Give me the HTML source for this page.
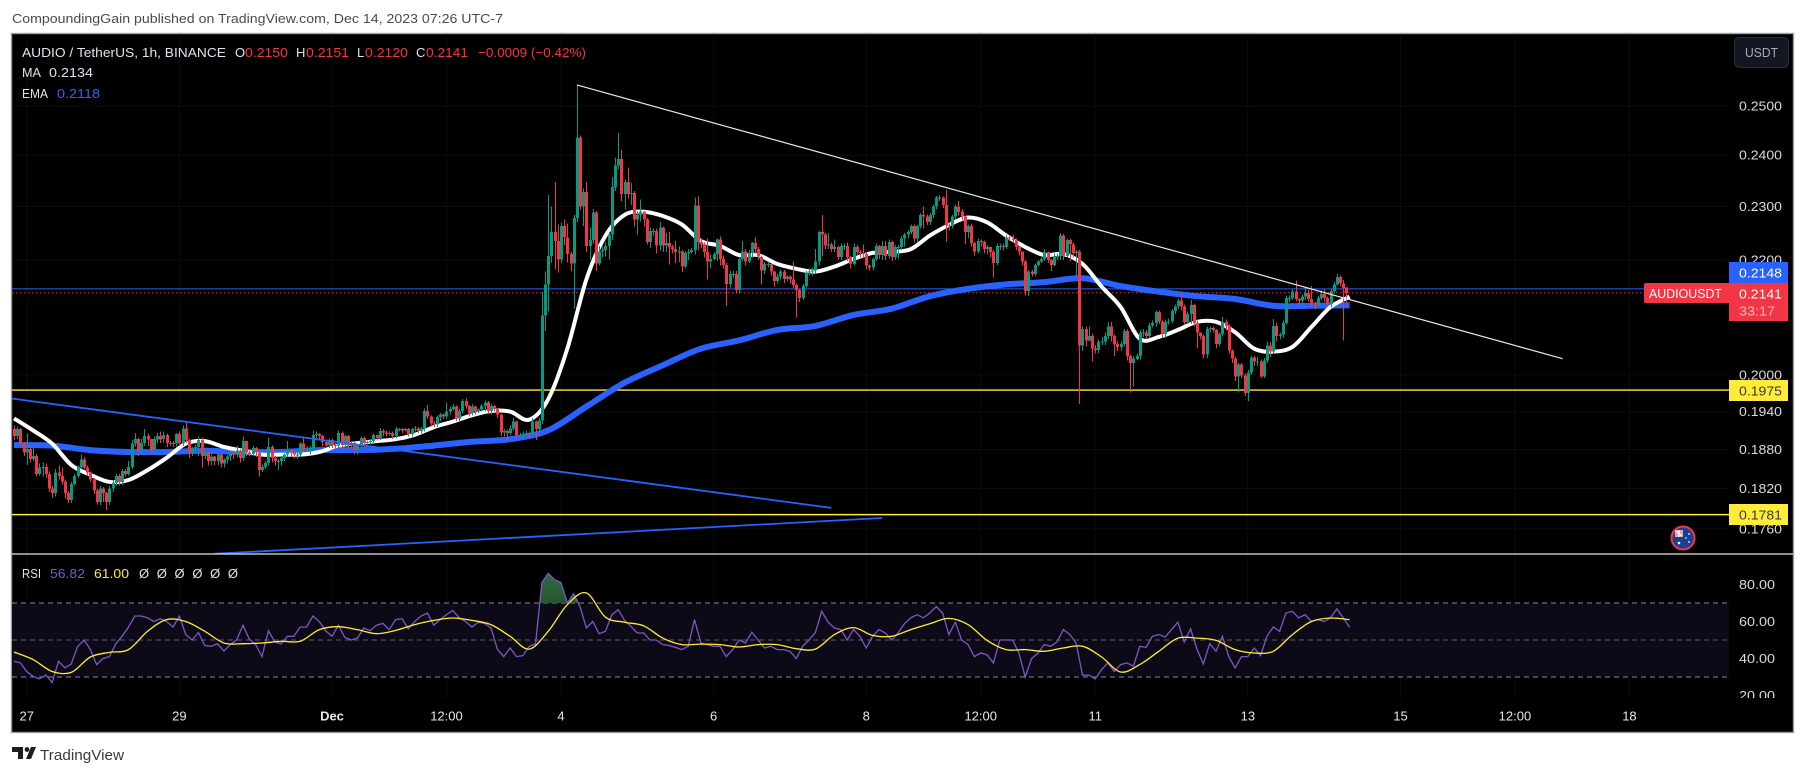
<!DOCTYPE html>
<html lang="en">
<head>
<meta charset="utf-8">
<title>AUDIO / TetherUS chart</title>
<style>
html,body{margin:0;padding:0;background:#fff;width:1805px;height:775px;overflow:hidden}
svg{display:block;font-family:"Liberation Sans",sans-serif}
text{font-size:13px}
</style>
</head>
<body>
<svg id="chart" xmlns="http://www.w3.org/2000/svg" width="1805" height="775" viewBox="0 0 1805 775">
  <defs>
    <clipPath id="main-clip"><rect x="12" y="34" width="1717" height="520"/></clipPath>
    <clipPath id="rsi-clip"><rect x="12" y="555" width="1717" height="144"/></clipPath>
    <clipPath id="rsi-over-clip"><rect x="12" y="555" width="1717" height="48"/></clipPath>
    <clipPath id="rsi-axis-clip"><rect x="1729" y="555" width="64" height="143"/></clipPath>
    <linearGradient id="rsi-over-fill" x1="0" y1="0" x2="0" y2="1">
      <stop offset="0" stop-color="#2f6b3f"/><stop offset="1" stop-color="#0c1f14"/>
    </linearGradient>
  </defs>

  <rect x="0" y="0" width="1805" height="775" fill="#ffffff"/>
  <text x="12" y="23" fill="#4a4a4a" textLength="491" lengthAdjust="spacingAndGlyphs">CompoundingGain published on TradingView.com, Dec 14, 2023 07:26 UTC-7</text>

  <rect x="11.5" y="33.5" width="1782" height="699" fill="#000" stroke="#9b9ea6" stroke-width="1.4"/>

  <g id="grid-layer"></g>
  <g id="main-layer" clip-path="url(#main-clip)"></g>
  <rect x="12" y="603" width="1717" height="74" fill="#0d0a18"/>
  <g id="rsi-layer" clip-path="url(#rsi-clip)"></g>

  <line x1="12" x2="1793" y1="554" y2="554" stroke="#e4e4e4" stroke-width="1.2"/>

  <g id="axis-layer"></g>
  <g id="rsi-axis-layer" clip-path="url(#rsi-axis-clip)"></g>

  <!-- legend -->
  <g>
    <text x="22" y="57" fill="#e0e3eb" textLength="204" lengthAdjust="spacingAndGlyphs">AUDIO / TetherUS, 1h, BINANCE</text>
    <text x="235" y="57" fill="#e0e3eb">O</text>
    <text x="245" y="57" fill="#f23645" textLength="43" lengthAdjust="spacingAndGlyphs">0.2150</text>
    <text x="296" y="57" fill="#e0e3eb">H</text>
    <text x="306" y="57" fill="#f23645" textLength="43" lengthAdjust="spacingAndGlyphs">0.2151</text>
    <text x="357" y="57" fill="#e0e3eb">L</text>
    <text x="365" y="57" fill="#f23645" textLength="43" lengthAdjust="spacingAndGlyphs">0.2120</text>
    <text x="416" y="57" fill="#e0e3eb">C</text>
    <text x="426" y="57" fill="#f23645" textLength="42" lengthAdjust="spacingAndGlyphs">0.2141</text>
    <text x="478" y="57" fill="#f23645" textLength="108" lengthAdjust="spacingAndGlyphs">−0.0009 (−0.42%)</text>
    <text x="22" y="77" fill="#e0e3eb" textLength="19" lengthAdjust="spacingAndGlyphs">MA</text>
    <text x="49" y="77" fill="#e0e3eb" textLength="44" lengthAdjust="spacingAndGlyphs">0.2134</text>
    <text x="22" y="98" fill="#e0e3eb" textLength="26" lengthAdjust="spacingAndGlyphs">EMA</text>
    <text x="57" y="98" fill="#2962ff" textLength="43" lengthAdjust="spacingAndGlyphs">0.2118</text>
  </g>
  <g>
    <text x="22" y="578" fill="#e0e3eb" textLength="19" lengthAdjust="spacingAndGlyphs">RSI</text>
    <text x="50" y="578" fill="#7e57c2" textLength="35" lengthAdjust="spacingAndGlyphs">56.82</text>
    <text x="94" y="578" fill="#ffeb3b" textLength="35" lengthAdjust="spacingAndGlyphs">61.00</text>
    <text x="139" y="578" fill="#e0e3eb" xml:space="preserve" textLength="99" lengthAdjust="spacing">Ø Ø Ø Ø Ø Ø</text>
  </g>

  <!-- USDT button -->
  <g>
    <rect x="1734.5" y="37.5" width="54" height="30" rx="5" fill="#131722" stroke="#2a2e39"/>
    <text x="1745" y="57" fill="#a8abb5" textLength="33" lengthAdjust="spacingAndGlyphs">USDT</text>
  </g>

  <!-- price tags -->
  <g>
    <rect x="1729" y="262" width="59" height="21" fill="#2962ff"/>
    <text x="1739" y="277.5" fill="#fff" textLength="43" lengthAdjust="spacingAndGlyphs">0.2148</text>
    <rect x="1644" y="283" width="86" height="20" rx="2" fill="#f23645"/>
    <text x="1649" y="298" fill="#fff" textLength="73" lengthAdjust="spacingAndGlyphs">AUDIOUSDT</text>
    <rect x="1729" y="283" width="59" height="38" fill="#f23645"/>
    <text x="1739" y="298.5" fill="#fff" textLength="43" lengthAdjust="spacingAndGlyphs">0.2141</text>
    <text x="1739" y="315.5" fill="#ffb6bd" textLength="36" lengthAdjust="spacingAndGlyphs">33:17</text>
    <rect x="1729" y="380" width="59" height="21" fill="#ffeb3b"/>
    <text x="1739" y="395.5" fill="#3a3a20" textLength="43" lengthAdjust="spacingAndGlyphs">0.1975</text>
    <rect x="1729" y="504" width="59" height="21" fill="#ffeb3b"/>
    <text x="1739" y="519.5" fill="#3a3a20" textLength="43" lengthAdjust="spacingAndGlyphs">0.1781</text>
  </g>

  <!-- event flag -->
  <g>
    <circle cx="1683" cy="538" r="11.5" fill="#1b3f92" stroke="#f23645" stroke-width="2"/>
    <rect x="1675" y="530" width="8" height="7" fill="#e8a0a8"/>
    <path d="M1676 531l6 5M1679 530v7" stroke="#fff" stroke-width="1.2" fill="none"/>
    <circle cx="1679" cy="543" r="1.3" fill="#fff"/>
    <circle cx="1689" cy="534" r="0.9" fill="#fff"/>
    <circle cx="1689" cy="542" r="0.9" fill="#fff"/>
    <circle cx="1686" cy="538" r="0.8" fill="#fff"/>
  </g>

  <!-- footer logo -->
  <g>
    <path d="M12 747h11v12h-5v-7h-6zM24 747h0M31 747h5l-5 12h-5z" fill="#1e1e1e"/>
    <circle cx="27" cy="749.5" r="2.4" fill="#1e1e1e"/>
    <text x="40" y="760" fill="#3c3c3c" style="font-size:15px" textLength="84" lengthAdjust="spacingAndGlyphs">TradingView</text>
  </g>
</svg>

<script>
// ---------- price data (units of 0.0001 USDT, hourly candles) ----------
const firstOpen = 1912;
const closes = [
1901,1912,1890,1875,1881,1865,1870,1842,1852,1853,
1842,1820,1813,1844,1839,1831,1813,1803,1827,1839,
1853,1864,1852,1844,1834,1817,1800,1820,1813,1800,
1820,1828,1839,1830,1847,1842,1853,1889,1896,1879,
1890,1901,1896,1879,1896,1901,1896,1903,1890,1890,
1889,1904,1890,1913,1895,1875,1882,1884,1895,1870,
1875,1862,1869,1862,1872,1858,1864,1869,1875,1872,
1878,1867,1893,1875,1873,1882,1875,1848,1853,1859,
1884,1867,1862,1862,1867,1872,1878,1875,1872,1872,
1889,1881,1882,1882,1903,1904,1901,1892,1886,1895,
1887,1886,1906,1887,1901,1886,1890,1879,1887,1898,
1890,1892,1893,1903,1898,1909,1907,1904,1906,1901,
1912,1912,1910,1912,1904,1912,1913,1909,1913,1941,
1932,1921,1920,1931,1935,1932,1940,1944,1948,1929,
1941,1957,1949,1938,1948,1940,1943,1949,1955,1941,
1949,1944,1935,1907,1909,1906,1913,1924,1903,1903,
1904,1906,1904,1924,1912,1926,2101,2156,2207,2252,
2235,2201,2263,2242,2211,2194,2278,2435,2300,2328,
2226,2237,2289,2194,2216,2218,2226,2247,2337,2380,
2392,2324,2347,2324,2326,2275,2284,2290,2275,2233,
2254,2254,2227,2260,2227,2231,2224,2220,2215,2216,
2188,2213,2215,2218,2302,2233,2229,2215,2197,2202,
2211,2238,2202,2191,2157,2175,2175,2146,2202,2216,
2197,2213,2231,2220,2206,2181,2193,2193,2179,2162,
2170,2179,2166,2170,2165,2155,2146,2132,2153,2177,
2179,2181,2197,2252,2247,2227,2229,2220,2224,2206,
2226,2226,2206,2193,2224,2215,2213,2211,2190,2186,
2202,2226,2209,2226,2207,2233,2206,2224,2224,2240,
2247,2252,2263,2240,2263,2284,2281,2271,2284,2300,
2317,2317,2303,2264,2263,2281,2300,2290,2281,2252,
2263,2231,2216,2235,2233,2220,2224,2215,2195,2226,
2226,2224,2242,2240,2237,2224,2216,2197,2144,2179,
2175,2191,2197,2202,2215,2200,2191,2206,2207,2245,
2207,2237,2229,2213,2216,2049,2078,2058,2066,2044,
2042,2056,2056,2066,2082,2066,2052,2047,2052,2074,
2032,2020,2027,2032,2072,2072,2066,2084,2088,2107,
2091,2069,2090,2091,2109,2117,2127,2117,2090,2104,
2119,2088,2072,2066,2034,2078,2079,2076,2052,2069,
2090,2083,2041,2027,1997,2017,1999,1970,2004,2029,
2022,2022,1997,2024,2049,2039,2083,2066,2068,2088,
2132,2132,2143,2130,2127,2134,2141,2130,2123,2119,
2132,2139,2132,2121,2144,2156,2169,2158,2150,2141];

const highs = [
1918,1916,1914,1892,1905,1886,1885,1873,1858,1860,
1858,1846,1824,1850,1855,1852,1834,1816,1830,1842,
1855,1872,1868,1855,1846,1836,1819,1824,1822,1815,
1824,1832,1842,1842,1850,1850,1862,1895,1906,1898,
1896,1912,1905,1896,1900,1906,1908,1908,1905,1893,
1893,1906,1908,1918,1924,1897,1884,1888,1900,1899,
1880,1876,1872,1870,1875,1874,1866,1871,1878,1878,
1886,1880,1900,1894,1878,1885,1884,1877,1857,1862,
1898,1886,1870,1865,1870,1874,1893,1880,1878,1875,
1892,1900,1885,1885,1910,1908,1906,1903,1895,1897,
1897,1890,1910,1908,1903,1903,1892,1892,1882,1900,
1900,1894,1895,1905,1903,1914,1912,1910,1908,1908,
1915,1914,1914,1914,1914,1914,1917,1915,1915,1945,
1951,1934,1925,1934,1938,1937,1955,1948,1952,1950,
1945,1960,1962,1951,1952,1950,1945,1952,1958,1957,
1952,1951,1946,1936,1912,1911,1918,1930,1926,1906,
1908,1910,1908,1930,1926,1930,2142,2179,2322,2300,
2347,2266,2270,2275,2268,2215,2284,2544,2440,2335,
2347,2260,2295,2291,2226,2225,2232,2252,2357,2395,
2445,2410,2352,2376,2345,2330,2290,2313,2290,2278,
2260,2258,2258,2271,2262,2250,2252,2228,2235,2225,
2218,2217,2220,2222,2317,2319,2240,2232,2240,2210,
2215,2240,2243,2208,2195,2180,2180,2180,2206,2235,
2220,2218,2233,2242,2224,2208,2196,2197,2195,2181,
2175,2183,2182,2172,2172,2197,2158,2148,2157,2180,
2185,2186,2220,2254,2284,2250,2250,2232,2238,2226,
2230,2230,2232,2208,2230,2228,2218,2229,2214,2192,
2205,2230,2228,2235,2235,2238,2236,2228,2228,2244,
2250,2256,2266,2266,2265,2288,2300,2285,2288,2304,
2320,2322,2319,2332,2268,2284,2304,2310,2295,2283,
2266,2268,2233,2240,2238,2236,2228,2225,2218,2230,
2230,2230,2246,2244,2246,2240,2226,2216,2200,2182,
2182,2194,2200,2205,2220,2216,2202,2212,2212,2250,
2248,2240,2240,2232,2218,2218,2082,2082,2082,2070,
2050,2060,2064,2072,2090,2090,2068,2056,2056,2078,
2078,2034,2032,2036,2076,2078,2076,2088,2092,2110,
2110,2092,2094,2096,2112,2120,2130,2143,2120,2108,
2128,2122,2092,2072,2068,2082,2082,2082,2078,2072,
2098,2094,2085,2043,2030,2020,2020,2002,2008,2032,
2032,2030,2026,2028,2056,2055,2095,2088,2072,2092,
2136,2136,2147,2163,2132,2138,2150,2146,2153,2126,
2136,2146,2148,2134,2148,2160,2175,2172,2164,2151];

const lows = [
1895,1896,1886,1870,1856,1860,1862,1838,1840,1838,
1836,1815,1806,1808,1834,1826,1805,1798,1798,1825,
1836,1850,1850,1840,1830,1812,1796,1795,1800,1788,
1795,1815,1825,1825,1825,1838,1840,1850,1885,1870,
1872,1885,1885,1872,1872,1890,1890,1890,1884,1885,
1884,1885,1885,1885,1890,1867,1870,1875,1870,1852,
1865,1855,1855,1855,1855,1852,1852,1858,1862,1865,
1868,1860,1862,1870,1870,1870,1868,1838,1845,1850,
1855,1860,1855,1848,1855,1862,1868,1868,1866,1865,
1868,1876,1876,1872,1878,1898,1895,1885,1882,1882,
1882,1880,1882,1880,1884,1880,1882,1872,1872,1880,
1884,1885,1888,1890,1894,1895,1900,1900,1902,1896,
1897,1908,1906,1908,1900,1900,1908,1906,1905,1908,
1928,1916,1915,1915,1925,1928,1928,1935,1942,1925,
1925,1937,1945,1932,1934,1935,1938,1940,1940,1936,
1935,1940,1930,1901,1900,1895,1903,1910,1898,1898,
1898,1898,1898,1902,1895,1905,1920,2074,2108,2195,
2183,2177,2195,2228,2196,2180,2113,2270,2294,2263,
2215,2201,2230,2180,2190,2205,2206,2201,2237,2330,
2372,2310,2294,2315,2303,2262,2247,2272,2262,2229,
2222,2245,2212,2218,2215,2215,2192,2212,2195,2196,
2178,2185,2200,2212,2210,2218,2222,2205,2165,2185,
2200,2198,2190,2185,2118,2150,2168,2140,2140,2198,
2190,2195,2205,2212,2200,2156,2175,2186,2172,2152,
2158,2165,2158,2162,2158,2150,2098,2125,2128,2150,
2172,2172,2175,2190,2207,2220,2220,2215,2215,2200,
2200,2218,2198,2185,2190,2208,2205,2204,2183,2181,
2181,2198,2202,2200,2200,2203,2198,2200,2203,2218,
2225,2240,2248,2232,2232,2258,2258,2265,2265,2278,
2295,2310,2297,2233,2255,2258,2275,2283,2274,2229,
2240,2225,2208,2212,2225,2212,2210,2205,2168,2190,
2218,2217,2220,2235,2232,2218,2208,2190,2136,2135,
2170,2170,2188,2195,2198,2195,2180,2188,2200,2200,
2200,2205,2198,2205,2170,1952,2040,2048,2056,2022,
2036,2036,2050,2050,2060,2056,2032,2040,2040,2048,
2024,1971,1981,2025,2026,2064,2060,2062,2080,2082,
2086,2062,2062,2085,2088,2104,2112,2110,2085,2086,
2086,2082,2044,2060,2027,2028,2072,2072,2045,2048,
2065,2075,2036,2020,1990,1971,1995,1965,1957,2000,
2015,2015,1995,1995,2020,2030,2036,2056,2060,2062,
2085,2125,2128,2126,2120,2118,2127,2126,2115,2112,
2114,2128,2126,2116,2115,2140,2154,2152,2058,2120];

// simple moving average, one reading every 6 hours
const maStepHours = 6;
const maValues = [
1929,1910,1889,1856,1841,1830,1833,1848,1867,1889,
1893,1884,1878,1872,1872,1872,1876,1886,1890,1893,
1896,1903,1915,1924,1934,1941,1940,1927,1960,2044,
2165,2245,2284,2290,2282,2266,2235,2226,2209,2209,
2193,2184,2179,2188,2202,2213,2215,2220,2245,2265,
2279,2270,2245,2224,2209,2211,2193,2152,2116,2061,
2064,2076,2090,2090,2072,2044,2039,2047,2081,2116,2134];

// exponential moving average, one reading every 12 hours
const emaStepHours = 12;
const emaValues = [
1887,1886,1879,1876,1876,1878,1876,1876,1879,1879,
1881,1886,1892,1896,1910,1948,1987,2016,2044,2058,
2076,2083,2102,2113,2135,2148,2156,2160,2167,2153,
2143,2135,2130,2118,2118,2119];

// RSI, one reading every 2 hours
const rsiStepHours = 2;
const rsiValues = [
38.5,37.6,33,30.4,29,31,27,38.5,35,37,
46.5,50,45,36.7,40,41,48,52,57,63,
63,62,60,61.5,60,57,63,53,50,54,
47,46.6,48,44,47.5,50,58,50.5,47.5,41,
55,49,48,52,52,57,57,63,60,55,
52,58,51.5,50,51,56.5,55,58,59,55.6,
61,61.5,56,60,63,64.6,58,61,63.7,66,
62,60,57,59.5,59,56.5,45,41,45.7,41,
41.5,46.6,47.8,81,86,82.6,81,70,75,68,
56.5,60,53.4,54.7,63.7,66.4,60.6,57.4,53.8,53.8,
50,50,47.5,47,46,44.8,46.6,61,48.4,47.5,
46.6,46.6,41,44.8,50,48.4,54.2,50,45.7,46.6,
44.8,44.8,43.9,40,46.6,50,54,65.5,59.6,56.5,
55.6,50,55.6,52,45.7,52,55.6,53.8,50,53.8,
58.8,62,63.7,62,64.6,68,64.6,52.9,59.6,50,
47.5,41,43,42,37.6,50,50,50,43,30,
40,43,47.5,46.6,49,55.6,53,48.4,31,31,
29,34,37.6,33,36.7,37.6,35.8,46.6,46,52,
53,51.6,55.6,59.6,49,56,45,37,48,43.9,
52,41,34.9,41,41,45.7,41.5,52,57,54.7,
64.6,65.5,62,63.7,60,61,60,62,66.8,62,56.82];

// RSI moving average, one reading every 6 hours
const rsiMaStepHours = 6;
const rsiMaValues = [
43.5,39.4,33,32.5,40.8,43.3,44.8,54.7,61,60,
54.7,48.4,48,48.4,49.3,49.3,55.6,57.2,55.6,53.4,
55.2,58.3,60.6,61.9,60.6,58.3,52,45.1,54.7,69.1,
75.4,62.3,59.6,57.7,51,47.5,47.8,47.5,46.2,47.5,
47.5,45.3,45.1,52.9,56.7,52.5,52,55.6,58.8,61.7,
58.3,49.8,44.8,44.8,43.9,45.7,46.6,40.8,32.7,36.7,
43.9,51,51,49.8,44.8,43,43.9,52.9,60,61.9,61];

// axis labels
const priceTicks = [0.25,0.24,0.23,0.22,0.20,0.194,0.188,0.182,0.176];
const rsiTicks = [80,60,40,20];
const timeLabels = ["27","29","Dec","12:00","4","6","8","12:00","11","13","15","12:00","18"];
const timeLabelHours = [4,52,100,136,172,220,268,304,340,388,436,472,508];

// drawings in (hour index, price) form
const levelPrices = [0.1975,0.1781];
const lastPrice = 0.2141;
const maPrice = 0.2148;
const whiteTrendHours = [177,487];
const whiteTrendPrices = [0.2544,0.2027];
const blueTrendHoursA = [-0.5,257];
const blueTrendPricesA = [0.1961,0.1791];
const blueTrendHoursB = [63,273];
const blueTrendPricesB = [0.1724,0.1776];

// ---------- axis functions ----------
const unit = 0.0001;
function xAt(hour){ return 14 + 3.18 * hour; }
function yPrice(p){ return 106 + 1205 * Math.log(0.25 / p); }
function yUnit(u){ return yPrice(u * unit); }
function yRsi(v){ return 677 + (30 - v) * 1.85; }

const NS = "http://www.w3.org/2000/svg";
function el(tag, parent){ const e = document.createElementNS(NS, tag); parent.appendChild(e); return e; }
function smooth(pts){
  let d = "M" + pts[0][0].toFixed(1) + " " + pts[0][1].toFixed(1);
  for (let i = 0; i < pts.length - 1; i++){
    const p0 = pts[Math.max(i-1,0)], p1 = pts[i], p2 = pts[i+1], p3 = pts[Math.min(i+2,pts.length-1)];
    const c1x = p1[0] + (p2[0]-p0[0])/6, c1y = p1[1] + (p2[1]-p0[1])/6;
    const c2x = p2[0] - (p3[0]-p1[0])/6, c2y = p2[1] - (p3[1]-p1[1])/6;
    d += "C" + c1x.toFixed(1) + " " + c1y.toFixed(1) + " " + c2x.toFixed(1) + " " + c2y.toFixed(1) + " " + p2[0].toFixed(1) + " " + p2[1].toFixed(1);
  }
  return d;
}
function straight(pts){
  return "M" + pts.map(p => p[0].toFixed(1) + " " + p[1].toFixed(1)).join("L");
}

const grid = document.getElementById("grid-layer");
const main = document.getElementById("main-layer");
const rsi = document.getElementById("rsi-layer");
const axis = document.getElementById("axis-layer");
const rsiAxis = document.getElementById("rsi-axis-layer");

// ---------- grid ----------
timeLabelHours.forEach(h => {
  const l = el("line", grid);
  
  
  l.setAttribute("x1", xAt(h)); l.setAttribute("x2", xAt(h));
  l.setAttribute("y1", 34); l.setAttribute("y2", 699);
  l.setAttribute("stroke", "#0c0c0c");
});
priceTicks.forEach(p => {
  const l = el("line", grid);
  
  
  l.setAttribute("x1", 12); l.setAttribute("x2", 1729);
  l.setAttribute("y1", yPrice(p)); l.setAttribute("y2", yPrice(p));
  l.setAttribute("stroke", "#0c0c0c");
});

// ---------- horizontal levels and price lines ----------
levelPrices.forEach(p => {
  const l = el("line", main);
  
  
  l.setAttribute("x1", 12); l.setAttribute("x2", 1729);
  l.setAttribute("y1", yPrice(p)); l.setAttribute("y2", yPrice(p));
  l.setAttribute("stroke", "#ffeb3b"); l.setAttribute("stroke-width", 1.4);
});
const maLine = el("line", main);


maLine.setAttribute("x1", 12); maLine.setAttribute("x2", 1729);
maLine.setAttribute("y1", yPrice(maPrice)); maLine.setAttribute("y2", yPrice(maPrice));
maLine.setAttribute("stroke", "#2962ff"); maLine.setAttribute("stroke-width", 1);
const lastLine = el("line", main);


lastLine.setAttribute("x1", 12); lastLine.setAttribute("x2", 1644);
lastLine.setAttribute("y1", yPrice(lastPrice)); lastLine.setAttribute("y2", yPrice(lastPrice));
lastLine.setAttribute("stroke", "#f23645"); lastLine.setAttribute("stroke-dasharray", "1.5 2.5");

// ---------- moving averages ----------
const emaPath = el("path", main);


emaPath.setAttribute("d", smooth(emaValues.map((v,i) => [xAt(i*emaStepHours), yUnit(v)])));
emaPath.setAttribute("fill", "none"); emaPath.setAttribute("stroke", "#2962ff");
emaPath.setAttribute("stroke-width", 6); emaPath.setAttribute("stroke-linejoin", "round");

const maPath = el("path", main);


maPath.setAttribute("d", smooth(maValues.map((v,i) => [xAt(i*maStepHours), yUnit(v)])));
maPath.setAttribute("fill", "none"); maPath.setAttribute("stroke", "#ffffff");
maPath.setAttribute("stroke-width", 4); maPath.setAttribute("stroke-linejoin", "round");

// ---------- candles ----------
closes.forEach((c, i) => {
  const o = i === 0 ? firstOpen : closes[i-1];
  const up = c >= o;
  const color = up ? "#089981" : "#f23645";
  const xc = Math.round(xAt(i));
  const wick = el("rect", main);
  
  
  const yh = yUnit(highs[i]), yl = yUnit(lows[i]);
  wick.setAttribute("x", xc); wick.setAttribute("width", 1);
  wick.setAttribute("y", yh.toFixed(1)); wick.setAttribute("height", Math.max(1, yl - yh).toFixed(1));
  wick.setAttribute("fill", color); wick.setAttribute("shape-rendering", "crispEdges");
  const body = el("rect", main);
  
  
  const yTop = yUnit(Math.max(o,c)), yBot = yUnit(Math.min(o,c));
  body.setAttribute("x", xc - 1); body.setAttribute("width", 3);
  body.setAttribute("y", yTop.toFixed(1)); body.setAttribute("height", Math.max(1, yBot - yTop).toFixed(1));
  body.setAttribute("fill", color); body.setAttribute("shape-rendering", "crispEdges");
});

// ---------- trend lines ----------
const whiteTrend = el("line", main);


whiteTrend.setAttribute("x1", xAt(whiteTrendHours[0])); whiteTrend.setAttribute("x2", xAt(whiteTrendHours[1]));
whiteTrend.setAttribute("y1", yPrice(whiteTrendPrices[0])); whiteTrend.setAttribute("y2", yPrice(whiteTrendPrices[1]));
whiteTrend.setAttribute("stroke", "#e8e8e8"); whiteTrend.setAttribute("stroke-width", 1.2);

const blueA = el("line", main);


blueA.setAttribute("x1", xAt(blueTrendHoursA[0])); blueA.setAttribute("x2", xAt(blueTrendHoursA[1]));
blueA.setAttribute("y1", yPrice(blueTrendPricesA[0])); blueA.setAttribute("y2", yPrice(blueTrendPricesA[1]));
blueA.setAttribute("stroke", "#2962ff"); blueA.setAttribute("stroke-width", 1.8);

const blueB = el("line", main);


blueB.setAttribute("x1", xAt(blueTrendHoursB[0])); blueB.setAttribute("x2", xAt(blueTrendHoursB[1]));
blueB.setAttribute("y1", yPrice(blueTrendPricesB[0])); blueB.setAttribute("y2", yPrice(blueTrendPricesB[1]));
blueB.setAttribute("stroke", "#2962ff"); blueB.setAttribute("stroke-width", 1.8);

// ---------- RSI pane ----------
[[70,"#8d8a96"],[50,"#5e5b66"],[30,"#8d8a96"]].forEach(pair => {
  const l = el("line", rsi);
  
  
  l.setAttribute("x1", 12); l.setAttribute("x2", 1729);
  l.setAttribute("y1", yRsi(pair[0])); l.setAttribute("y2", yRsi(pair[0]));
  l.setAttribute("stroke", pair[1]); l.setAttribute("stroke-dasharray", "5 4");
});
const rsiPts = rsiValues.map((v,i) => [xAt(i*rsiStepHours), yRsi(v)]);
const over = el("path", rsi);


over.setAttribute("d", straight(rsiPts) + "L" + rsiPts[rsiPts.length-1][0] + " " + yRsi(70) + "L" + rsiPts[0][0] + " " + yRsi(70) + "Z");
over.setAttribute("fill", "url(#rsi-over-fill)");
over.setAttribute("clip-path", "url(#rsi-over-clip)");

const rsiLine = el("path", rsi);


rsiLine.setAttribute("d", straight(rsiPts));
rsiLine.setAttribute("fill", "none"); rsiLine.setAttribute("stroke", "#7e57c2"); rsiLine.setAttribute("stroke-width", 1.3);

const rsiMaLine = el("path", rsi);


rsiMaLine.setAttribute("d", smooth(rsiMaValues.map((v,i) => [xAt(i*rsiMaStepHours), yRsi(v)])));
rsiMaLine.setAttribute("fill", "none"); rsiMaLine.setAttribute("stroke", "#ffeb3b"); rsiMaLine.setAttribute("stroke-width", 1.3);

// ---------- axis labels ----------
priceTicks.forEach(p => {
  const t = el("text", axis);
  
  
  t.setAttribute("x", 1739); t.setAttribute("y", (yPrice(p) + 4.5).toFixed(1));
  t.setAttribute("fill", "#d8dae0");
  t.setAttribute("textLength", 43); t.setAttribute("lengthAdjust", "spacingAndGlyphs");
  t.textContent = p.toFixed(4);
});
rsiTicks.forEach(v => {
  const t = el("text", rsiAxis);
  
  
  t.setAttribute("x", 1739); t.setAttribute("y", (yRsi(v) + 4.5).toFixed(1));
  t.setAttribute("fill", "#d8dae0");
  t.setAttribute("textLength", 36); t.setAttribute("lengthAdjust", "spacingAndGlyphs");
  t.textContent = v.toFixed(2);
});
timeLabels.forEach((s, i) => {
  const t = el("text", axis);
  
  
  t.setAttribute("x", xAt(timeLabelHours[i])); t.setAttribute("y", 720.5);
  t.setAttribute("text-anchor", "middle");
  t.setAttribute("fill", "#e4e6ec");
  if (s === "Dec") t.setAttribute("font-weight", "bold");
  t.textContent = s;
});
</script>
</body>
</html>
